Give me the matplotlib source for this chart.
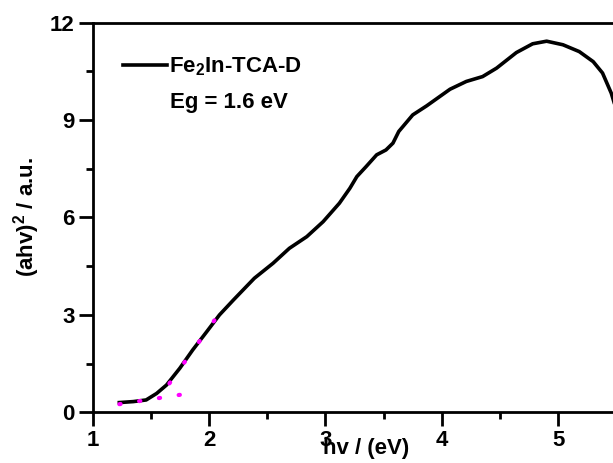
import matplotlib
matplotlib.use('Agg')
import matplotlib.pyplot as plt
from matplotlib.ticker import MultipleLocator

plt.rcParams['font.family'] = ['Liberation Sans', 'DejaVu Sans']
plt.rcParams['font.weight'] = 'bold'
plt.rcParams['mathtext.default'] = 'regular'

# Tauc plot curve
hv = [1.23, 1.35, 1.46, 1.55, 1.635, 1.75, 1.86, 1.98, 2.09, 2.21, 2.32, 2.39,
      2.55, 2.69, 2.84, 2.98, 3.12, 3.21, 3.27, 3.35, 3.44, 3.52, 3.58, 3.63,
      3.75, 3.87, 4.07, 4.21, 4.35, 4.47, 4.64, 4.78, 4.90, 5.04, 5.18, 5.30,
      5.38, 5.455, 5.50]
ahv2 = [0.30, 0.33, 0.38, 0.58, 0.84, 1.36, 1.92, 2.48, 3.00, 3.46, 3.87, 4.13,
        4.59, 5.05, 5.41, 5.87, 6.44, 6.90, 7.26, 7.57, 7.93, 8.08, 8.29, 8.65,
        9.16, 9.44, 9.95, 10.19, 10.34, 10.60, 11.08, 11.35, 11.43, 11.32, 11.11,
        10.80, 10.45, 9.83, 9.3]

# fitted lines (magenta dotted)
base_x = [1.23, 1.79]
base_y = [0.25, 0.56]
tan_x = [1.66, 2.06]
tan_y = [0.89, 2.90]

fig = plt.figure(figsize=(6.13, 4.63), dpi=100)
ax = fig.add_axes([0.151, 0.1095, 0.849, 0.8415])

ax.plot(hv, ahv2, color='black', lw=2.6, label='Fe$_2$In-TCA-D', zorder=3)
ax.plot(base_x, base_y, color='#ff00ff', lw=3, ls=(0, (0.3, 4.5)),
        dash_capstyle='round', zorder=4)
ax.plot(tan_x, tan_y, color='#ff00ff', lw=3, ls=(0, (0.3, 5.8)),
        dash_capstyle='round', zorder=4)

ax.set_xlim(1, 5.47)
ax.set_ylim(0, 12)
ax.xaxis.set_major_locator(MultipleLocator(1))
ax.xaxis.set_minor_locator(MultipleLocator(0.5))
ax.yaxis.set_major_locator(MultipleLocator(3))
ax.yaxis.set_minor_locator(MultipleLocator(1.5))
ax.tick_params(which='major', direction='out', length=10, width=2, labelsize=16, pad=3)
ax.tick_params(which='minor', direction='out', length=5, width=2)
for s in ['left', 'bottom', 'top']:
    ax.spines[s].set_linewidth(2)
ax.spines['right'].set_visible(False)

ax.set_xlabel('hv / (eV)', fontsize=16, fontweight='bold')
ax.xaxis.set_label_coords(0.525, -0.066)
ax.set_ylabel('(ahv)$^2$ / a.u.', fontsize=16, fontweight='bold')
ax.yaxis.set_label_coords(-0.098, 0.5)

leg = ax.legend(loc='upper left', bbox_to_anchor=(0.058, 0.915), frameon=False,
                fontsize=16, handlelength=2.0, handletextpad=0.1,
                borderaxespad=0, borderpad=0)
ax.text(0.148, 0.795, 'Eg = 1.6 eV', transform=ax.transAxes, fontsize=16,
        fontweight='bold', va='center', ha='left')

fig.savefig('out.png', dpi=100, facecolor='white')
